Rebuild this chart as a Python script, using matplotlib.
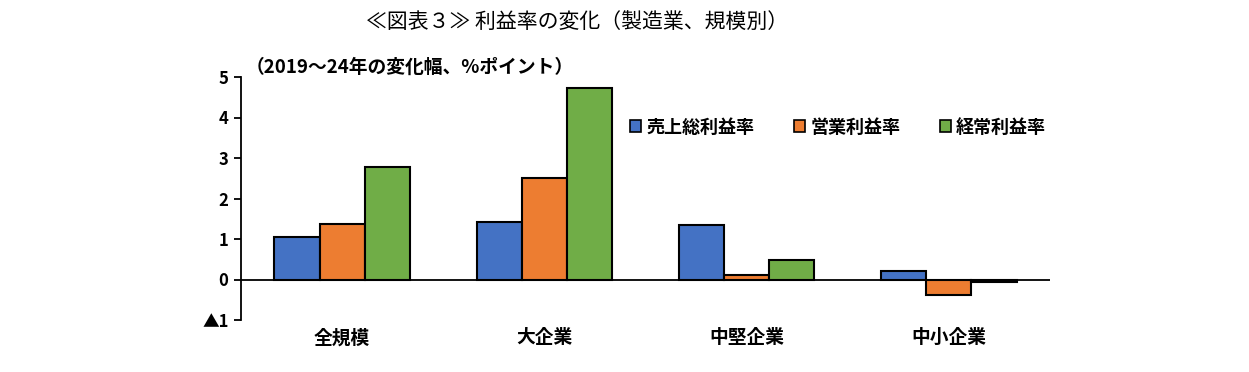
import matplotlib
matplotlib.use("Agg")
import matplotlib.pyplot as plt
import numpy as np

plt.rcParams['font.family'] = ['Noto Sans CJK JP', 'DejaVu Sans']

# data
categories = ['全規模', '大企業', '中堅企業', '中小企業']
series_names = ['売上総利益率', '営業利益率', '経常利益率']
gross = [1.04, 1.43, 1.34, 0.20]
operating = [1.38, 2.51, 0.10, -0.39]
ordinary = [2.78, 4.72, 0.47, -0.06]
yticks = [-1, 0, 1, 2, 3, 4, 5]
ytick_labels = ['▲1', '0', '1', '2', '3', '4', '5']

colors = ['#4472C4', '#ED7D31', '#70AD47']

fig = plt.figure(figsize=(12.49, 3.72), dpi=100)
ax = fig.add_axes([241 / 1249, 1 - 320 / 372, (1050 - 241) / 1249, (320 - 77) / 372])

x = np.arange(len(categories))
w = 0.223
for k, vals in enumerate([gross, operating, ordinary]):
    ax.bar(x + (k - 1) * w, vals, w, color=colors[k], edgecolor='black',
           linewidth=1.5, label=series_names[k], zorder=2)

ax.set_xlim(-0.5, len(categories) - 0.5)
ax.set_ylim(-1, 5)
ax.axhline(0, color='black', linewidth=1.3, zorder=3)

for s in ['top', 'right', 'bottom']:
    ax.spines[s].set_visible(False)
ax.spines['left'].set_linewidth(1.3)

ax.set_yticks(yticks)
ax.set_yticklabels(ytick_labels, fontsize=12, fontweight='bold')
ax.tick_params(axis='y', direction='out', length=5, width=1.3, pad=4)
ax.set_xticks(x)
ax.set_xticklabels(categories, fontsize=13.5, fontweight='bold')
ax.tick_params(axis='x', length=0, pad=6)

fig.text(577 / 1249, 1 - 22 / 372, '≪図表３≫ 利益率の変化（製造業、規模別）',
         ha='center', va='center', fontsize=15)
fig.text(246 / 1249, 1 - 67 / 372, '（2019～24年の変化幅、%ポイント）',
         ha='left', va='center', fontsize=13.5, fontweight='bold')

leg = ax.legend(loc='center', bbox_to_anchor=((838 - 241) / 809, (320 - 127) / 243),
                ncol=3, frameon=False, handlelength=0.6, handleheight=0.6,
                columnspacing=2.2, handletextpad=0.3, prop={'weight': 'bold', 'size': 13})
for h in leg.legend_handles:
    h.set_linewidth(1.2)

fig.savefig('out.png', dpi=100)
